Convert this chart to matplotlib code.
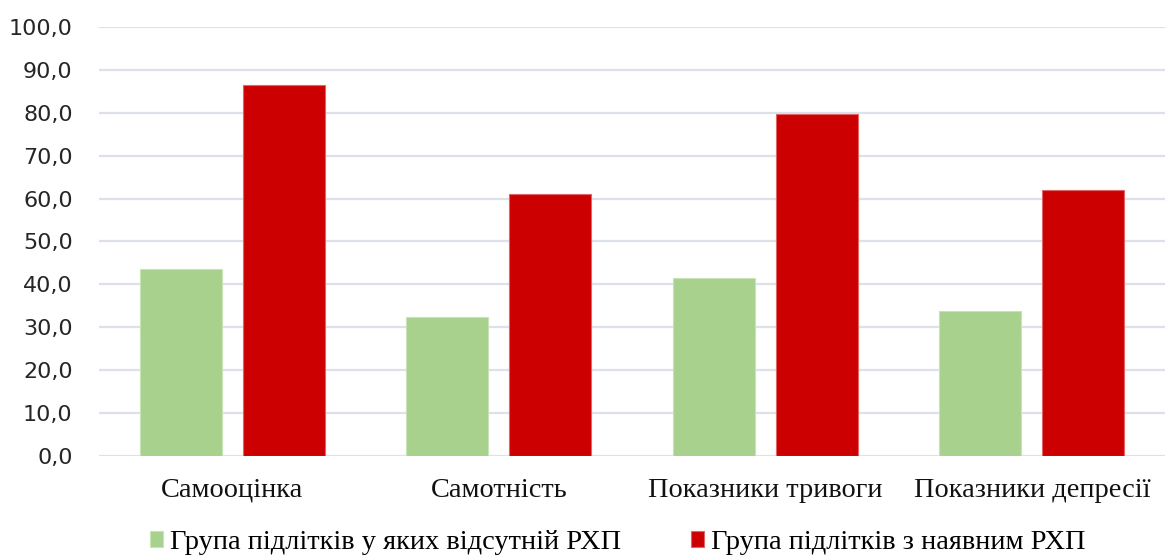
import matplotlib
matplotlib.use("Agg")
import matplotlib.pyplot as plt
import numpy as np
from matplotlib.ticker import FuncFormatter

categories = ["Самооцінка", "Самотність", "Показники тривоги", "Показники депресії"]
series_names = ["Група підлітків у яких відсутній РХП", "Група підлітків з наявним РХП"]
absent_values = [43.5, 32.5, 41.5, 33.8]
present_values = [86.5, 61.0, 79.8, 62.0]
y_ticks = [0, 10, 20, 30, 40, 50, 60, 70, 80, 90, 100]

green = "#a9d18e"
red = "#cc0000"
grid_color = "#dde1ea"
serif = "Liberation Serif"

fig = plt.figure(figsize=(11.68, 5.55), dpi=100)
ax = fig.add_axes([0.0848, 0.1784, 0.9127, 0.773])

x = np.arange(len(categories))
w = 0.308
off = w / 2 + 0.039
ax.bar(x - off, absent_values, width=w, color=green, edgecolor="#c8e3b6",
       linewidth=0.8, label=series_names[0], zorder=3)
ax.bar(x + off, present_values, width=w, color=red, edgecolor="#e06666",
       linewidth=0.8, label=series_names[1], zorder=3)

ax.set_xlim(-0.5, len(categories) - 0.5)
ax.set_ylim(0, 100)
ax.set_yticks(y_ticks)
ax.yaxis.set_major_formatter(FuncFormatter(lambda v, p: f"{v:.1f}".replace(".", ",")))
ax.grid(axis="y", color=grid_color, linewidth=1.6, zorder=0)
ax.set_axisbelow(True)
for s in ax.spines.values():
    s.set_visible(False)
ax.tick_params(axis="y", length=0, pad=19, labelsize=16, labelcolor="#262626")
for lbl in ax.get_yticklabels():
    lbl.set_fontfamily("DejaVu Sans")

ax.set_xticks(x)
ax.set_xticklabels(categories, fontfamily=serif, fontsize=20.4, color="#111111")
ax.tick_params(axis="x", length=0, pad=15.5)

fig.legend(loc="center", bbox_to_anchor=(0.529, 0.022), ncol=2, frameon=False,
           prop={"family": serif, "size": 20.4},
           handlelength=0.47, handleheight=0.47, handletextpad=0.25,
           columnspacing=2.45, borderpad=0.0)

fig.savefig("out.png", dpi=100, facecolor="white")
